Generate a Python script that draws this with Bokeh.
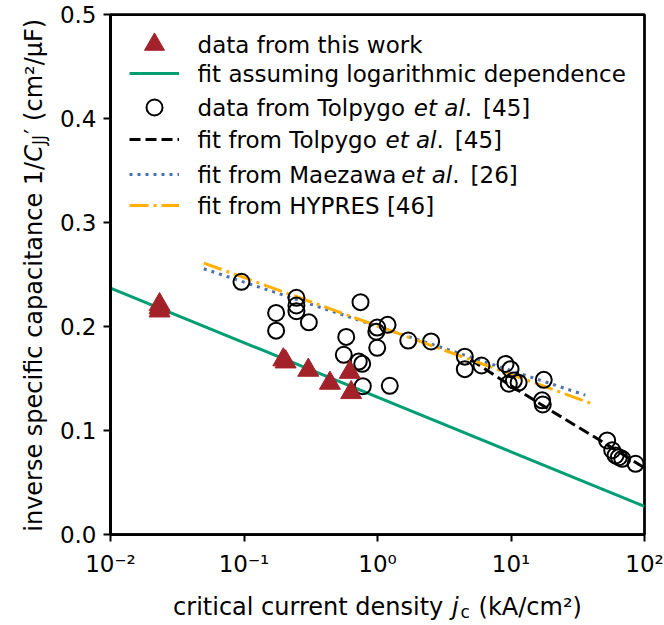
import numpy as np
from bokeh.plotting import figure
from bokeh.layouts import row, column
from bokeh.models import (FixedTicker, PrintfTickFormatter, Legend, LegendItem,
                          Label, Range1d)
from bokeh.embed import file_html
from bokeh.resources import INLINE

# ---------------- data ----------------
this_work_jc = [0.0233, 0.0233, 0.0233, 0.197, 0.205, 0.303, 0.44, 0.62, 0.635]
this_work_inv_c = [0.221, 0.218, 0.215, 0.168, 0.166, 0.158, 0.1455, 0.156, 0.1365]

tolpygo_jc = [0.0957, 0.247, 0.247, 0.247, 0.174, 0.174, 0.306, 0.746, 0.583,
              0.559, 0.724, 0.768, 0.776, 0.995, 1.19, 0.98, 0.995, 1.236,
              1.70, 2.52, 4.51, 4.51, 6.01, 9.1, 9.92, 9.63, 10.5, 11.4,
              17.6, 17.1, 17.3, 52.5, 57.3, 60.7, 64.3, 68.1, 85.7]
tolpygo_inv_c = [0.243, 0.2276, 0.2202, 0.2147, 0.213, 0.196, 0.204, 0.2234, 0.190,
                 0.1728, 0.1663, 0.1641, 0.1426, 0.199, 0.2016, 0.195, 0.1795, 0.143,
                 0.1865, 0.1856, 0.171, 0.159, 0.1625, 0.164, 0.159, 0.145, 0.148, 0.146,
                 0.1487, 0.129, 0.125, 0.0904, 0.081, 0.076, 0.0743, 0.0728, 0.068]

log_fit_jc = [0.01, 100]
log_fit_inv_c = [0.237, 0.027]

tolpygo_fit_jc = [5, 10, 20, 50, 100]
tolpygo_fit_inv_c = [0.168, 0.143, 0.119, 0.088, 0.064]

maezawa_fit_jc = [0.05, 36]
maezawa_fit_inv_c = [0.2555, 0.134]

hypres_fit_jc = [0.05, 40]
hypres_fit_inv_c = [0.261, 0.126]

x_ticks = [0.01, 0.1, 1, 10, 100]
x_tick_labels = ["10\u207b\u00b2", "10\u207b\u00b9", "10\u2070", "10\u00b9", "10\u00b2"]
y_ticks = [0.0, 0.1, 0.2, 0.3, 0.4, 0.5]

# ---------------- styling constants ----------------
FONT = "DejaVu Sans"
FS = 23          # tick labels and legend
AFS = 24         # axis labels
SFS = 17         # axis-label subscripts
RED = "#a3222a"
GREEN = "#029e73"
BLUE = "#4c72b0"
ORANGE = "#ffb000"

W, H = 664, 625
YW = 56            # width of the strip holding the y label
XH = 41            # height of the strip holding the x label
L_CANVAS = 110     # frame left in page px
T, R = 14, 20
FB = 534           # frame bottom in page px
MW, MH = W - YW, H - XH

p = figure(width=MW, height=MH, x_axis_type="log", title=None,
           x_range=Range1d(0.01, 100), y_range=Range1d(0, 0.5),
           output_backend="svg", toolbar_location=None,
           min_border_left=L_CANVAS - YW, min_border_right=R, min_border_top=T,
           min_border_bottom=MH - FB)
p.xgrid.visible = False
p.ygrid.visible = False
p.background_fill_color = "white"
p.border_fill_color = "white"
p.outline_line_color = "black"
p.outline_line_width = 2.75
p.outline_line_alpha = 1.0

p.xaxis.ticker = FixedTicker(ticks=x_ticks)
p.xaxis.major_label_overrides = dict(zip(x_ticks, x_tick_labels))
p.yaxis.ticker = FixedTicker(ticks=y_ticks)
p.yaxis.formatter = PrintfTickFormatter(format="%.1f")
for ax in (p.xaxis[0], p.yaxis[0]):
    ax.axis_line_width = 2.75
    ax.axis_line_color = "black"
    ax.major_tick_line_width = 2
    ax.major_tick_line_color = "black"
    ax.major_tick_out = 7
    ax.major_tick_in = 0
    ax.minor_tick_line_color = None
    ax.major_label_text_font = FONT
    ax.major_label_text_font_size = f"{FS}px"
    ax.major_label_text_color = "black"
    ax.axis_label = None
p.xaxis[0].major_label_standoff = 9
p.yaxis[0].major_label_standoff = 7

# ---------------- glyphs ----------------
r_green = p.line(log_fit_jc, log_fit_inv_c, line_color=GREEN, line_width=3)
r_black = p.line(tolpygo_fit_jc, tolpygo_fit_inv_c, line_color="black", line_width=3,
                 line_dash="11 5")
r_blue = p.line(maezawa_fit_jc, maezawa_fit_inv_c, line_color=BLUE, line_width=3,
                line_dash="3 5")
r_orange = p.line(hypres_fit_jc, hypres_fit_inv_c, line_color=ORANGE, line_width=3,
                  line_dash="19 5 3 5")
r_circ = p.scatter(tolpygo_jc, tolpygo_inv_c, marker="circle", size=16,
                   fill_color=None, line_color="black", line_width=2)
r_tri = p.scatter(this_work_jc, this_work_inv_c, marker="triangle", size=21,
                  fill_color=RED, line_color=RED, line_width=1)


def add_text(fig, sx, sy, text, size=FS, style="normal", angle=0, align="left",
             baseline="middle"):
    """sx, sy are screen offsets from the bottom-left corner of fig's frame."""
    fig.add_layout(Label(x=sx, y=sy, x_units="screen", y_units="screen",
                         text=text, text_font=FONT, text_font_size=f"{size}px",
                         text_font_style=style, text_align=align,
                         text_baseline=baseline, angle=angle, angle_units="deg",
                         text_color="black"))


def main_text(cx, cy, text, **kw):
    add_text(p, cx - L_CANVAS, FB - cy, text, **kw)


# ---------------- legend (one Legend per row) ----------------
GW = 50
gx_center = 154.3
row_y = [44, 73, 107, 139, 174, 205]
renderers = [r_tri, r_green, r_circ, r_black, r_blue, r_orange]
glyph_h = [50, 50, 40, 50, 50, 50]
for ry, rend, gh in zip(row_y, renderers, glyph_h):
    lg = Legend(items=[LegendItem(label=" ", renderers=[rend])],
                location=(gx_center - GW / 2 - L_CANVAS, FB - ry - gh / 2),
                glyph_width=GW, glyph_height=gh, padding=0, margin=0, spacing=0,
                label_standoff=0, label_width=0, label_height=0,
                label_text_font_size="1px",
                border_line_color=None, background_fill_alpha=0.0)
    p.add_layout(lg)

EM = FS
TX = 197.1
main_text(TX, row_y[0], "data from this work")
main_text(TX, row_y[1], "fit assuming logarithmic dependence")
for ry, head, head_em, tail in [(row_y[2], "data from Tolpygo", 9.531, "[45]"),
                                (row_y[3], "fit from Tolpygo", 8.300, "[45]"),
                                (row_y[4], "fit from Maezawa", 8.985, "[26]")]:
    main_text(TX, ry, head)
    x1 = TX + head_em * EM - 3
    main_text(x1, ry, "et al", style="italic")
    x2 = x1 + 2.216 * EM
    main_text(x2, ry, ".")
    main_text(x2 + 0.318 * EM + 11, ry, tail)
main_text(TX, row_y[5], "fit from HYPRES [46]")

# ---------------- x label strip (its frame is aligned with the main frame) ----------------
xf = figure(width=MW, height=XH, title=None, output_backend="svg",
            toolbar_location=None, x_axis_location=None, y_axis_location=None,
            x_range=Range1d(0, 1), y_range=Range1d(0, 1), min_border=0)
xf.outline_line_color = None
xf.xgrid.visible = False
xf.ygrid.visible = False
xl_cy = 606                       # page px of the label's centre line
seg1, seg2, seg3, seg4 = "critical current density", "j", "c", "(kA/cm\u00b2)"
sp = 0.318 * AFS
w1, w2, w3 = 11.3 * AFS + sp, 0.278 * AFS + 2, 0.55 * SFS + 1
w4 = 4.305 * AFS
total = w1 + w2 + w3 + sp + w4
x0 = (L_CANVAS + 534 / 2 - total / 2) - L_CANVAS
sy = H - xl_cy
add_text(xf, x0, sy, seg1, size=AFS)
add_text(xf, x0 + w1, sy, seg2, size=AFS, style="italic")
add_text(xf, x0 + w1 + w2, sy - 5, seg3, size=SFS)
add_text(xf, x0 + w1 + w2 + w3 + sp, sy, seg4, size=AFS)

# ---------------- y label strip ----------------
yf = figure(width=YW, height=H, title=None, output_backend="svg",
            toolbar_location=None, x_axis_location=None, y_axis_location=None,
            x_range=Range1d(0, 1), y_range=Range1d(0, 1), min_border=0)
yf.outline_line_color = None
yf.xgrid.visible = False
yf.ygrid.visible = False
yl_x = 33
p1, p2, p3, p4 = "inverse specific capacitance 1/", "C", "JJ", "\u2032 (cm\u00b2/\u03bcF)"
v1, v2, v3, v4 = 15.415 * AFS, 0.698 * AFS, 0.59 * SFS + 1, 4.865 * AFS
vt = v1 + v2 + v3 + v4
y0 = T + 520 / 2 + vt / 2          # page px of the label's lower end
add_text(yf, yl_x, H - y0, p1, size=AFS, angle=90)
add_text(yf, yl_x, H - (y0 - v1), p2, size=AFS, angle=90, style="italic")
add_text(yf, yl_x + 5, H - (y0 - v1 - v2), p3, size=SFS, angle=90)
add_text(yf, yl_x, H - (y0 - v1 - v2 - v3), p4, size=AFS, angle=90)

layout = row(yf, column(p, xf, spacing=0), spacing=0)
open("out.html", "w").write(file_html(layout, INLINE))
